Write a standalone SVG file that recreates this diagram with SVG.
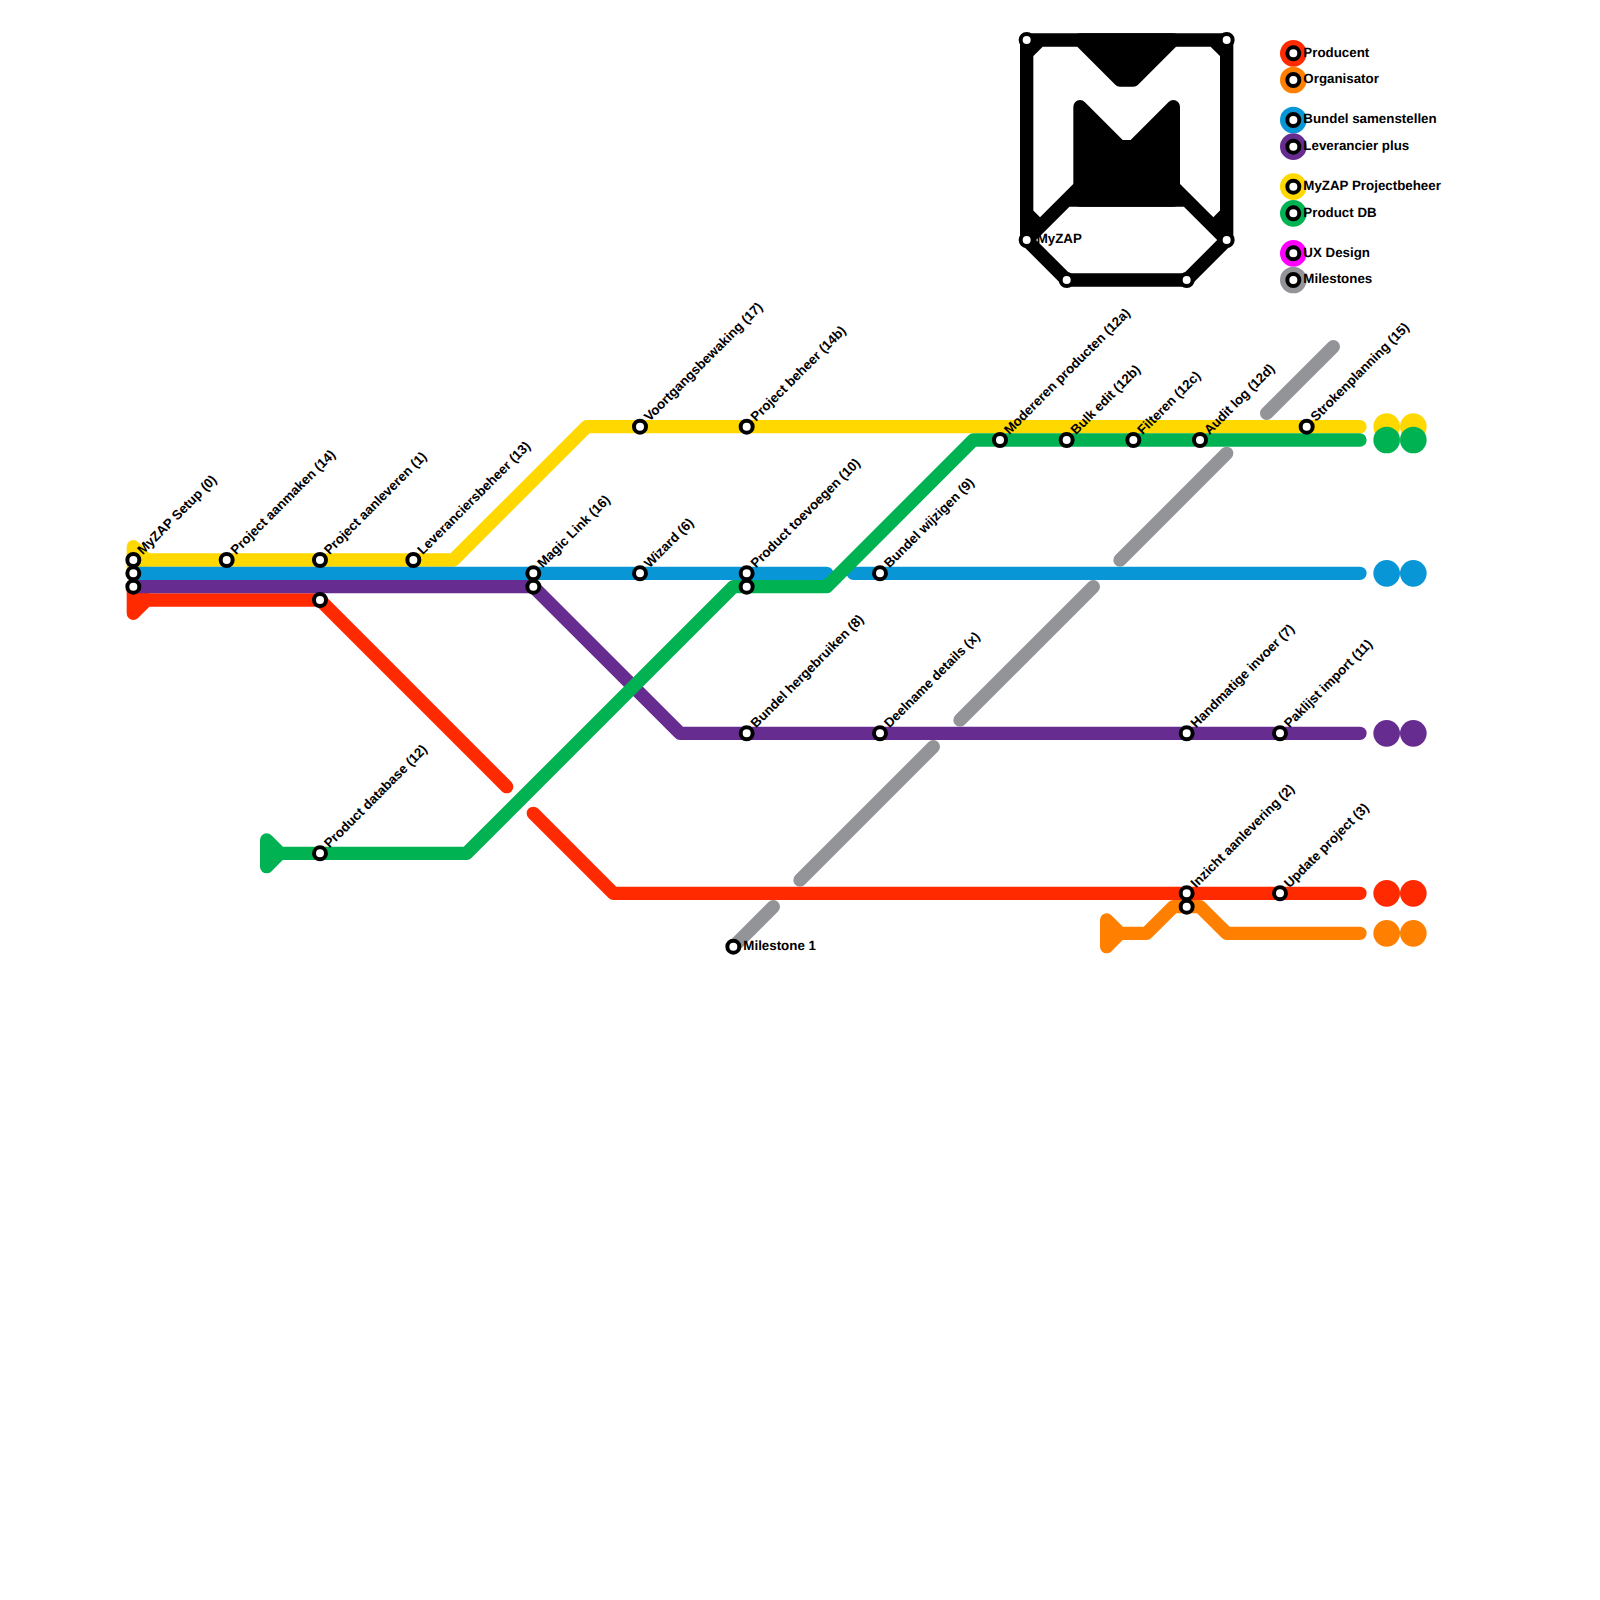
<svg xmlns="http://www.w3.org/2000/svg" width="1600" height="1600" viewBox="0 0 1600 1600">
<style>
text{font-family:"Liberation Sans",Arial,sans-serif;font-weight:bold;font-size:13.33px;fill:#000;text-rendering:geometricPrecision}
.ln{fill:none;stroke-width:1;stroke-linecap:round;stroke-linejoin:round}
.red{stroke:#ff2a00}.org{stroke:#ff8000}.yel{stroke:#ffd800}.blu{stroke:#0896d7}.pur{stroke:#662c90}.grn{stroke:#00b251}.gry{stroke:#929497}.blk{stroke:#000}
.st{fill:#fff;stroke:#000;stroke-width:4}
.fred{fill:#ff2a00}.forg{fill:#ff8000}.fyel{fill:#ffd800}.fblu{fill:#0896d7}.fpur{fill:#662c90}.fgrn{fill:#00b251}.fgry{fill:#929497}.fmag{fill:#ff00ff}
</style>
<g id="connectors" transform="scale(13.33333)">
<path class="ln org" d="M83 69V71L84 70ZM84 70H86L88 68H90L92 70H102"/>
<path class="ln red" d="M10 44V46L11 45ZM11 45H24L38 59M40 61L46 67H102"/>
<path class="ln yel" d="M10 41V43L11 42ZM11 42H34L44 32H102"/>
<path class="ln blu" d="M10 43H62M64 43H102"/>
<path class="ln pur" d="M10 44H40L51 55H102"/>
<path class="ln grn" d="M20 63V65L21 64ZM21 64H35L55 44H62L73 33H102"/>
<path class="ln gry" d="M55 71L58 68M60 66L70 56M72 54L82 44M84 42L92 34M95 31L100 26"/>
<path class="ln blk" d="M77 18V3H92V18L89 21H80ZM77 4L78 3M91 3L92 4M77 16L78 17M92 16L91 17M77 18L81 14M92 18L88 14M80 15H89"/>
<path class="ln blk" style="fill:#000" d="M81 3L84 6H85L88 3Z"/>
<path class="ln blk" style="fill:#000" d="M81 8L84 11H85L88 8V15H81Z"/>
</g>
<g id="terminals">
<g id="end-yellow"><circle class="fyel" cx="1386.67" cy="426.67" r="13.33"/><circle class="fyel" cx="1413.33" cy="426.67" r="13.33"/></g>
<g id="end-green"><circle class="fgrn" cx="1386.67" cy="440" r="13.33"/><circle class="fgrn" cx="1413.33" cy="440" r="13.33"/></g>
<g id="end-blue"><circle class="fblu" cx="1386.67" cy="573.33" r="13.33"/><circle class="fblu" cx="1413.33" cy="573.33" r="13.33"/></g>
<g id="end-purple"><circle class="fpur" cx="1386.67" cy="733.33" r="13.33"/><circle class="fpur" cx="1413.33" cy="733.33" r="13.33"/></g>
<g id="end-red"><circle class="fred" cx="1386.67" cy="893.33" r="13.33"/><circle class="fred" cx="1413.33" cy="893.33" r="13.33"/></g>
<g id="end-orange"><circle class="forg" cx="1386.67" cy="933.33" r="13.33"/><circle class="forg" cx="1413.33" cy="933.33" r="13.33"/></g>
</g>
<g id="stations">
<g id="s0" transform="translate(133.33 560)"><circle class="st" r="6"/><text transform="rotate(-45)" x="10" y="3.33">MyZAP Setup (0)</text></g>
<g id="s0b" transform="translate(133.33 573.33)"><circle class="st" r="6"/></g>
<g id="s0c" transform="translate(133.33 586.67)"><circle class="st" r="6"/></g>
<g id="s14" transform="translate(226.67 560)"><circle class="st" r="6"/><text transform="rotate(-45)" x="10" y="3.33">Project aanmaken (14)</text></g>
<g id="s1" transform="translate(320 560)"><circle class="st" r="6"/><text transform="rotate(-45)" x="10" y="3.33">Project aanleveren (1)</text></g>
<g id="s1b" transform="translate(320 600)"><circle class="st" r="6"/></g>
<g id="s13" transform="translate(413.33 560)"><circle class="st" r="6"/><text transform="rotate(-45)" x="10" y="3.33">Leveranciersbeheer (13)</text></g>
<g id="s16" transform="translate(533.33 573.33)"><circle class="st" r="6"/><text transform="rotate(-45)" x="10" y="3.33">Magic Link (16)</text></g>
<g id="s16b" transform="translate(533.33 586.67)"><circle class="st" r="6"/></g>
<g id="s6" transform="translate(640 573.33)"><circle class="st" r="6"/><text transform="rotate(-45)" x="10" y="3.33">Wizard (6)</text></g>
<g id="s17" transform="translate(640 426.67)"><circle class="st" r="6"/><text transform="rotate(-45)" x="10" y="3.33">Voortgangsbewaking (17)</text></g>
<g id="s14b" transform="translate(746.67 426.67)"><circle class="st" r="6"/><text transform="rotate(-45)" x="10" y="3.33">Project beheer (14b)</text></g>
<g id="s10" transform="translate(746.67 573.33)"><circle class="st" r="6"/><text transform="rotate(-45)" x="10" y="3.33">Product toevoegen (10)</text></g>
<g id="s10b" transform="translate(746.67 586.67)"><circle class="st" r="6"/></g>
<g id="s8" transform="translate(746.67 733.33)"><circle class="st" r="6"/><text transform="rotate(-45)" x="10" y="3.33">Bundel hergebruiken (8)</text></g>
<g id="s9" transform="translate(880 573.33)"><circle class="st" r="6"/><text transform="rotate(-45)" x="10" y="3.33">Bundel wijzigen (9)</text></g>
<g id="sx" transform="translate(880 733.33)"><circle class="st" r="6"/><text transform="rotate(-45)" x="10" y="3.33">Deelname details (x)</text></g>
<g id="s12" transform="translate(320 853.33)"><circle class="st" r="6"/><text transform="rotate(-45)" x="10" y="3.33">Product database (12)</text></g>
<g id="m1" transform="translate(733.33 946.67)"><circle class="st" r="6"/><text x="10" y="3.33">Milestone 1</text></g>
<g id="s12a" transform="translate(1000 440)"><circle class="st" r="6"/><text transform="rotate(-45)" x="10" y="3.33">Modereren producten (12a)</text></g>
<g id="s12b" transform="translate(1066.67 440)"><circle class="st" r="6"/><text transform="rotate(-45)" x="10" y="3.33">Bulk edit (12b)</text></g>
<g id="s12c" transform="translate(1133.33 440)"><circle class="st" r="6"/><text transform="rotate(-45)" x="10" y="3.33">Filteren (12c)</text></g>
<g id="s12d" transform="translate(1200 440)"><circle class="st" r="6"/><text transform="rotate(-45)" x="10" y="3.33">Audit log (12d)</text></g>
<g id="s15" transform="translate(1306.67 426.67)"><circle class="st" r="6"/><text transform="rotate(-45)" x="10" y="3.33">Strokenplanning (15)</text></g>
<g id="s7" transform="translate(1186.67 733.33)"><circle class="st" r="6"/><text transform="rotate(-45)" x="10" y="3.33">Handmatige invoer (7)</text></g>
<g id="s11" transform="translate(1280 733.33)"><circle class="st" r="6"/><text transform="rotate(-45)" x="10" y="3.33">Paklijst import (11)</text></g>
<g id="s2" transform="translate(1186.67 893.33)"><circle class="st" r="6"/><text transform="rotate(-45)" x="10" y="3.33">Inzicht aanlevering (2)</text></g>
<g id="s2b" transform="translate(1186.67 906.67)"><circle class="st" r="6"/></g>
<g id="s3" transform="translate(1280 893.33)"><circle class="st" r="6"/><text transform="rotate(-45)" x="10" y="3.33">Update project (3)</text></g>
</g>
<g id="logo-stations">
<g id="l1" transform="translate(1026.67 40)"><circle class="st" r="6"/></g>
<g id="l2" transform="translate(1226.67 40)"><circle class="st" r="6"/></g>
<g id="l3" transform="translate(1026.67 240)"><circle class="st" r="6"/><text x="10" y="3.33">MyZAP</text></g>
<g id="l4" transform="translate(1226.67 240)"><circle class="st" r="6"/></g>
<g id="l5" transform="translate(1066.67 280)"><circle class="st" r="6"/></g>
<g id="l6" transform="translate(1186.67 280)"><circle class="st" r="6"/></g>
</g>
<g id="legend">
<g id="lg-red" transform="translate(1293.33 53.33)"><circle class="fred" r="13.33"/><circle class="st" r="6"/><text x="10" y="3.33">Producent</text></g>
<g id="lg-org" transform="translate(1293.33 80)"><circle class="forg" r="13.33"/><circle class="st" r="6"/><text x="10" y="3.33">Organisator</text></g>
<g id="lg-blu" transform="translate(1293.33 120)"><circle class="fblu" r="13.33"/><circle class="st" r="6"/><text x="10" y="3.33">Bundel samenstellen</text></g>
<g id="lg-pur" transform="translate(1293.33 146.67)"><circle class="fpur" r="13.33"/><circle class="st" r="6"/><text x="10" y="3.33">Leverancier plus</text></g>
<g id="lg-yel" transform="translate(1293.33 186.67)"><circle class="fyel" r="13.33"/><circle class="st" r="6"/><text x="10" y="3.33">MyZAP Projectbeheer</text></g>
<g id="lg-grn" transform="translate(1293.33 213.33)"><circle class="fgrn" r="13.33"/><circle class="st" r="6"/><text x="10" y="3.33">Product DB</text></g>
<g id="lg-mag" transform="translate(1293.33 253.33)"><circle class="fmag" r="13.33"/><circle class="st" r="6"/><text x="10" y="3.33">UX Design</text></g>
<g id="lg-gry" transform="translate(1293.33 280)"><circle class="fgry" r="13.33"/><circle class="st" r="6"/><text x="10" y="3.33">Milestones</text></g>
</g>
</svg>
